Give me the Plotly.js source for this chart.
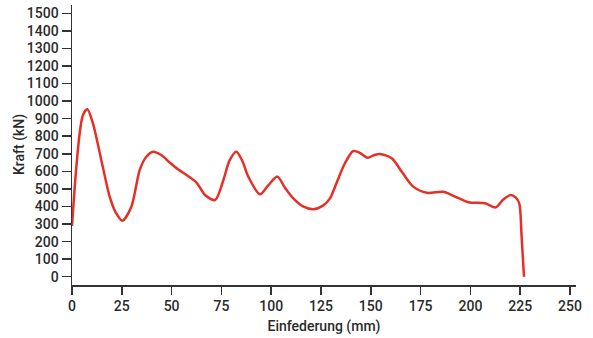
<!DOCTYPE html>
<html>
<head>
<meta charset="utf-8">
<script src="https://cdn.plot.ly/plotly-3.0.1.min.js"></script>
<style>html,body{margin:0;padding:0;background:#fff;}#chart{width:593px;height:338px;}</style>
</head>
<body>
<div id="chart"></div>
<script>
const deflection = [0, 2, 4, 5.5, 7.7, 10.5, 14.7, 18.9, 22, 25.3, 29.8, 34, 37.3, 40.7, 44.8, 49.2, 53.2, 58, 62.6, 66.8, 71.8, 76, 79, 82.5, 85.5, 88.5, 94.4, 98.5, 103.1, 107, 111.1, 116, 121.1, 126, 129.5, 133, 137, 141.2, 144.5, 148.4, 151.5, 154.6, 160.5, 166, 171.3, 178.1, 186.4, 192, 199, 207.3, 212.7, 216.5, 220.2, 222.8, 224.5, 225.7, 226.9];
const force = [289, 600, 830, 921, 953, 873, 665, 456, 365, 319, 399, 608, 683, 712, 693, 649, 612, 575, 535, 465, 437, 551, 660, 712, 660, 570, 469, 520, 570, 505, 446, 400, 384, 405, 446, 540, 646, 716, 705, 678, 692, 699, 674, 590, 513, 478, 484, 458, 424, 418, 395, 440, 465, 450, 418, 228, 0];
const xTicks = [0, 25, 50, 75, 100, 125, 150, 175, 200, 225, 250];
const yTicks = [0, 100, 200, 300, 400, 500, 600, 700, 800, 900, 1000, 1100, 1200, 1300, 1400, 1500];
const xLabel = 'Einfederung (mm)';
const yLabel = 'Kraft (kN)';

const font = {family: 'Roboto, "DejaVu Sans", sans-serif', size: 14, color: '#2b2b2b', weight: 500};
Plotly.newPlot('chart', [{
  x: deflection, y: force, type: 'scatter', mode: 'lines',
  line: {color: '#e53027', width: 2.5, shape: 'spline', smoothing: 0.8},
  hoverinfo: 'skip'
}], {
  width: 593, height: 338,
  margin: {l: 72, r: 17, t: 5, b: 53},
  paper_bgcolor: '#fff', plot_bgcolor: '#fff',
  showlegend: false,
  font: font,
  xaxis: {
    range: [0, 253], tickvals: xTicks, ticktext: xTicks.map(String),
    showgrid: false, zeroline: false, showline: true, linecolor: '#333', linewidth: 1.5,
    ticks: 'outside', ticklen: 8, tickwidth: 1.5, tickcolor: '#333',
    tickfont: font,
    title: {text: xLabel, font: font, standoff: 8}
  },
  yaxis: {
    range: [-47, 1547], tickvals: yTicks, ticktext: yTicks.map(String),
    showgrid: false, zeroline: false, showline: true, linecolor: '#333', linewidth: 1.5,
    ticks: 'outside', ticklen: 9, tickwidth: 1.5, tickcolor: '#333',
    tickfont: font
  },
  annotations: [{
    text: yLabel, xref: 'paper', yref: 'paper', x: (19 - 72) / 504, y: 0.5,
    xanchor: 'center', yanchor: 'middle', textangle: -90, showarrow: false, font: font
  }]
}, {staticPlot: true});
</script>
</body>
</html>
